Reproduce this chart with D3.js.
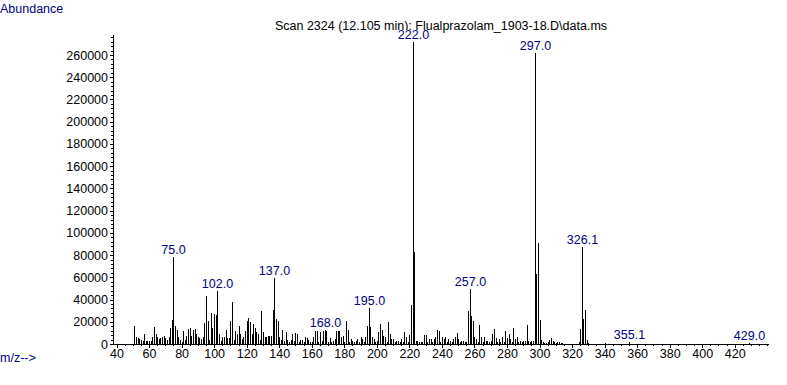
<!DOCTYPE html>
<html>
<head>
<meta charset="utf-8">
<script src="https://cdn.jsdelivr.net/npm/d3@7"></script>
<style>
  body { margin: 0; background: #fff; }
  text { font-family: "Liberation Sans", Arial, sans-serif; }
</style>
</head>
<body>
<div id="chart"></div>
<script>
// spectrum data (m/z and abundance)
const mz = [
  51, 52, 53, 54, 55, 56, 57, 58, 59, 60, 61, 62, 63, 64, 65, 66, 67, 68, 69, 70,
  71, 72, 73, 74, 75, 76, 77, 78, 79, 80, 81, 82, 83, 84, 85, 86, 87, 88, 89, 90,
  91, 92, 93, 94, 95, 96, 97, 98, 99, 100, 101, 102, 103, 104, 105, 106, 107, 108, 109, 110,
  111, 112, 113, 114, 115, 116, 117, 118, 119, 120, 121, 122, 123, 124, 125, 126, 127, 128, 129, 130,
  131, 132, 133, 134, 135, 136, 137, 138, 139, 140, 141, 142, 143, 144, 145, 146, 147, 148, 149, 150,
  151, 152, 153, 154, 155, 156, 157, 158, 159, 160, 161, 162, 163, 164, 165, 166, 167, 168, 169, 170,
  171, 172, 173, 174, 175, 176, 177, 178, 179, 180, 181, 182, 183, 184, 185, 186, 187, 188, 189, 190,
  191, 192, 193, 194, 195, 196, 197, 198, 199, 200, 201, 202, 203, 204, 205, 206, 207, 208, 209, 210,
  211, 212, 213, 214, 215, 216, 217, 218, 219, 220, 221, 222, 223, 224, 225, 226, 227, 228, 229, 230,
  231, 232, 233, 234, 235, 236, 237, 238, 239, 240, 241, 242, 243, 244, 245, 246, 247, 248, 249, 250,
  251, 252, 253, 254, 255, 256, 257, 258, 259, 260, 261, 262, 263, 264, 265, 266, 267, 268, 269, 270,
  271, 272, 273, 274, 275, 276, 277, 278, 279, 280, 281, 282, 283, 284, 285, 286, 287, 288, 289, 290,
  291, 292, 293, 294, 295, 296, 297, 298, 299, 300, 301, 302, 303, 304, 305, 306, 307, 308, 309, 310,
  311, 312, 313, 314, 324, 325, 326.1, 327, 328, 329, 330, 340, 355.1, 429
];
const abundance = [
  16500, 6500, 5500, 4500, 3500, 3000, 9000, 2500, 2500, 2500, 2500, 6500, 15000, 9000, 6500, 4500, 5500, 6500, 7500, 5500,
  3500, 6500, 14000, 21500, 78000, 16500, 13000, 6500, 4000, 2000, 11500, 4000, 7500, 13500, 14500, 7500, 13000, 13500, 9000, 6500,
  5500, 4500, 6000, 18500, 43500, 20500, 4000, 27700, 14000, 27000, 26500, 47300, 9000, 3000, 6500, 6500, 12500, 5000, 5000, 21000,
  37500, 4000, 12000, 9000, 16500, 9000, 4500, 6500, 12000, 21000, 23500, 19500, 9000, 18000, 14500, 10500, 9000, 4000, 30000, 10500,
  6500, 6000, 7500, 7500, 7500, 31000, 59500, 22500, 21000, 6500, 4000, 12500, 3000, 11000, 4000, 2000, 4000, 9000, 3000, 9500,
  9000, 2000, 4000, 4000, 2000, 6000, 5000, 3500, 2000, 2000, 6500, 12000, 11500, 2000, 10500, 3000, 11500, 12500, 12000, 2000,
  5000, 2000, 3000, 4500, 11500, 12000, 12000, 6500, 7500, 2000, 21000, 12500, 2000, 4500, 3000, 2000, 3000, 4500, 2000, 6000,
  4500, 2000, 6000, 16500, 32000, 15500, 6500, 4500, 2000, 3000, 10500, 18000, 12500, 7500, 6500, 2000, 19500, 9000, 4500, 4500,
  2000, 3000, 3000, 2000, 4500, 2000, 10500, 6000, 2000, 8000, 35500, 272000, 82500, 3000, 3000, 1500, 2000, 1500, 8500, 8500,
  2000, 4500, 4500, 2000, 4500, 6000, 12500, 12000, 2000, 6000, 4500, 6000, 2000, 4500, 3000, 2000, 4500, 6500, 9500, 4500,
  1500, 3000, 3000, 1500, 2000, 30000, 49700, 25500, 20500, 6500, 4500, 2000, 17000, 6000, 2000, 6000, 3000, 3000, 1500, 3000,
  9000, 13500, 5500, 2000, 4500, 2000, 6000, 2000, 12000, 5500, 9000, 4500, 2000, 14500, 4500, 6000, 1500, 2500, 1500, 3000,
  2500, 17000, 3000, 1500, 3000, 3000, 262000, 63000, 90500, 22000, 3500, 1500, 1000, 1000, 1500, 3500, 5000, 3000, 1500, 1000,
  2000, 2000, 1000, 1000, 1500, 13500, 87500, 22500, 30500, 3500, 1000, 1000, 1500, 1000
];
// peaks that carry an m/z label
const labelMz = [75, 102, 137, 168, 195, 222, 257, 297, 326.1, 355.1, 429];
// axis ticks
const yTicks = d3.range(0, 260001, 20000);
const xTicks = d3.range(40, 421, 20);

const width = 787,
    height = 385,
    navy = "#000080";

const svg = d3.select("#chart")
    .append("svg")
    .attr("width", width)
    .attr("height", height);

// scales
const xScale = d3.scaleLinear()
    .domain([40, 440])
    .range([116.5, 767.3]);

const yScale = d3.scaleLinear()
    .domain([0, 260000])
    .range([344, 55]);

const axisLeftX = 113,
    axisTopY = 35,
    axisRightX = 769;

// title and axis captions
svg.append("text")
    .attr("x", 441)
    .attr("y", 30)
    .attr("text-anchor", "middle")
    .style("font-size", "12.5px")
    .attr("fill", "#000")
    .text("Scan 2324 (12.105 min): Flualprazolam_1903-18.D\\data.ms");

svg.append("text")
    .attr("x", 0)
    .attr("y", 13)
    .style("font-size", "12.5px")
    .attr("fill", navy)
    .text("Abundance");

svg.append("text")
    .attr("x", 0)
    .attr("y", 362)
    .style("font-size", "12.5px")
    .attr("fill", navy)
    .text("m/z-->");

// y axis
const yAxis = d3.axisLeft(yScale)
    .tickValues(yTicks)
    .tickSize(3)
    .tickPadding(2)
    .tickFormat(d3.format("d"));

const yMinor = d3.axisLeft(yScale)
    .tickValues(d3.range(0, 276001, 4000))
    .tickSize(2)
    .tickFormat("");

svg.append("g")
    .attr("transform", `translate(${axisLeftX},0)`)
    .call(yMinor)
    .call(g => g.select(".domain").remove());

svg.append("g")
    .attr("transform", `translate(${axisLeftX},0)`)
    .call(yAxis)
    .call(g => g.select(".domain").remove())
    .call(g => g.selectAll("text").style("font-size", "12.5px").attr("fill", "#000")
        .style("font-family", "'Liberation Sans', Arial, sans-serif"));

svg.append("line")
    .attr("x1", axisLeftX + 0.5).attr("x2", axisLeftX + 0.5)
    .attr("y1", axisTopY).attr("y2", 344.5)
    .attr("stroke", "#000");

// x axis
const xAxis = d3.axisBottom(xScale)
    .tickValues(xTicks)
    .tickSize(4)
    .tickPadding(1)
    .tickFormat(d3.format("d"));

const xMinor = d3.axisBottom(xScale)
    .tickValues(d3.range(40, 441, 5))
    .tickSize(2)
    .tickFormat("");

svg.append("g")
    .attr("transform", "translate(0,344)")
    .call(xMinor)
    .call(g => g.select(".domain").remove());

svg.append("g")
    .attr("transform", "translate(0,344)")
    .call(xAxis)
    .call(g => g.select(".domain").remove())
    .call(g => g.selectAll("text").style("font-size", "12.5px").attr("fill", "#000")
        .style("font-family", "'Liberation Sans', Arial, sans-serif"));

svg.append("line")
    .attr("x1", axisLeftX).attr("x2", axisRightX)
    .attr("y1", 344.5).attr("y2", 344.5)
    .attr("stroke", "#000");

// peaks
svg.append("g")
    .selectAll("line")
    .data(d3.range(mz.length))
    .enter()
    .append("line")
    .attr("x1", i => Math.round(xScale(mz[i])) + 0.5)
    .attr("x2", i => Math.round(xScale(mz[i])) + 0.5)
    .attr("y1", yScale(0))
    .attr("y2", i => Math.round(yScale(abundance[i])))
    .attr("stroke", "#000")
    .attr("shape-rendering", "crispEdges");

// peak labels with white backing
const labels = svg.append("g")
    .selectAll("g")
    .data(labelMz)
    .enter()
    .append("g")
    .attr("transform", d => {
        const v = abundance[mz.indexOf(d)];
        return `translate(${Math.round(xScale(d)) + 0.5},${Math.round(yScale(v)) - 3})`;
    });

labels.append("text")
    .attr("text-anchor", "middle")
    .style("font-size", "12.5px")
    .attr("fill", navy)
    .text(d => d3.format(".1f")(d));

labels.insert("rect", "text")
    .each(function () {
        const bb = this.parentNode.querySelector("text").getBBox();
        d3.select(this)
            .attr("x", bb.x)
            .attr("y", bb.y + 2)
            .attr("width", bb.width)
            .attr("height", bb.height - 2)
            .attr("fill", "#fff");
    });

svg.selectAll(".tick line").attr("shape-rendering", "crispEdges");
</script>
</body>
</html>
